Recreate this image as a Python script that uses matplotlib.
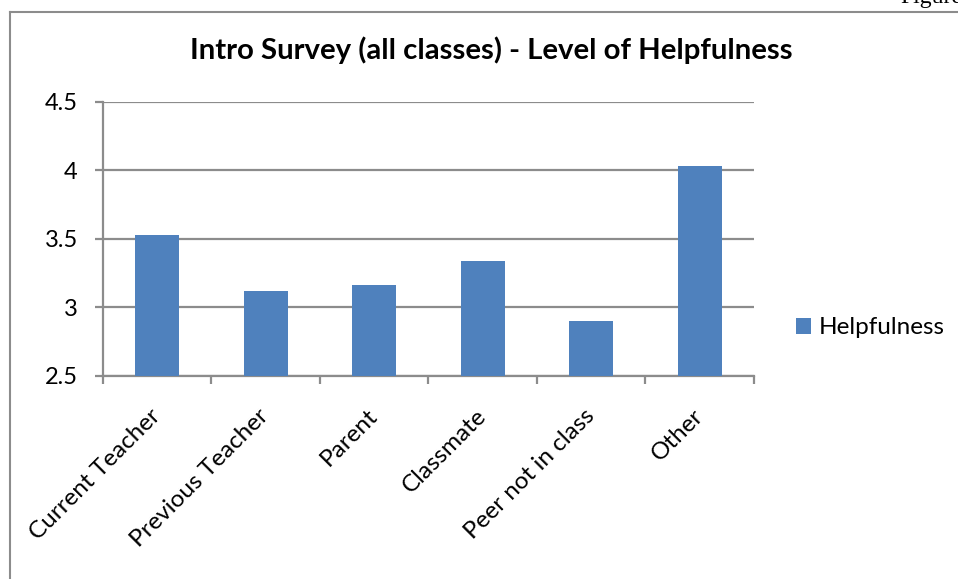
import matplotlib
matplotlib.use("Agg")
import matplotlib.pyplot as plt
from matplotlib.lines import Line2D
import numpy as np

categories = ["Current Teacher", "Previous Teacher", "Parent", "Classmate", "Peer not in class", "Other"]
helpfulness = [3.53, 3.12, 3.16, 3.34, 2.90, 4.03]
yticks = [2.5, 3, 3.5, 4, 4.5]
ytick_labels = ["2.5", "3", "3.5", "4", "4.5"]

W, H = 958, 579
fig = plt.figure(figsize=(W / 100, H / 100), dpi=100)
plt.rcParams['font.family'] = ['Lato', 'DejaVu Sans']

def fx(px):
    return px / W

def fy(py):
    return 1 - py / H

left, right, top, bottom = 102.7, 754, 101.7, 375.7
ax = fig.add_axes([fx(left), fy(bottom), fx(right) - fx(left), fy(top) - fy(bottom)])

x = np.arange(len(categories))
bar_color = "#4F81BD"
grid_color = "#8C8C8C"
ax.bar(x, [v - 2.5 for v in helpfulness], bottom=2.5, width=0.405, color=bar_color,
       zorder=3, label="Helpfulness")
ax.set_xlim(-0.5, len(categories) - 0.5)
ax.set_ylim(2.5, 4.5)
ax.set_yticks(yticks)
ax.set_yticklabels(ytick_labels, fontsize=17)
ax.yaxis.grid(True, color=grid_color, linewidth=1.6, zorder=0)
ax.set_axisbelow(True)
for s in ["top", "right"]:
    ax.spines[s].set_visible(False)
for s in ["left", "bottom"]:
    ax.spines[s].set_color(grid_color)
    ax.spines[s].set_linewidth(1.6)

ax.set_xticks(np.arange(-0.5, len(categories)), minor=False)
ax.set_xticklabels([])
ax.tick_params(axis="x", direction="out", length=6, width=1.6, color=grid_color)
ax.tick_params(axis="y", direction="out", length=6, width=1.6, color=grid_color, pad=12)

for i, c in enumerate(categories):
    ax.annotate(c, xy=(i, 2.5), xycoords="data", xytext=(0, -37), textcoords="offset pixels",
                rotation=45, rotation_mode="anchor", ha="right", va="center", fontsize=17.5)

fig.text(fx(491), fy(50), "Intro Survey (all classes) - Level of Helpfulness",
         ha="center", va="center", fontsize=21.2, fontweight="bold")

leg = ax.legend(loc="center left", bbox_to_anchor=(fx(796), fy(328)), bbox_transform=fig.transFigure,
                frameon=False, fontsize=17.5, handlelength=0.6, handleheight=0.6, handletextpad=0.35,
                borderaxespad=0, borderpad=0)

frame_color = "#8C8C8C"
fig.add_artist(Line2D([fx(10), fx(10)], [fy(12), 0], color=frame_color, linewidth=1.5))
fig.add_artist(Line2D([fx(10), 1], [fy(12), fy(12)], color=frame_color, linewidth=1.5))
fig.text(fx(962), fy(-3), "Figure", ha="right", va="center", fontsize=17,
         family=["Liberation Serif", "DejaVu Serif"])

fig.savefig("out.png", dpi=100)
